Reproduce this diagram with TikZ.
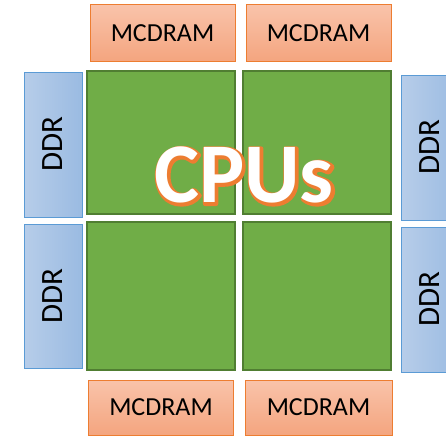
\documentclass[tikz,border=0pt]{standalone}
\usepackage{fontspec}
\setmainfont{Carlito}
\definecolor{mcborder}{HTML}{ED7D31}
\definecolor{mctop}{HTML}{F9C3AA}
\definecolor{mcbot}{HTML}{F4A57F}
\definecolor{ddrborder}{HTML}{5B9BD5}
\definecolor{ddrleft}{HTML}{B7CDE9}
\definecolor{ddrright}{HTML}{9ABBE2}
\definecolor{cpufill}{HTML}{70AD47}
\definecolor{cpuborder}{HTML}{507E32}
\definecolor{cpuorange}{HTML}{ED7D31}
\newcommand{\orangestroked}[1]{\special{pdf:literal 2 Tr 4.5 w 1 j 0.929 0.490 0.192 RG}#1\special{pdf:literal 0 Tr}}
\begin{document}
\begin{tikzpicture}[x=1pt,y=-1pt,
  mc/.style={draw=mcborder, line width=1pt, top color=mctop, bottom color=mcbot,
    minimum width=145pt, minimum height=56pt, inner sep=0pt,
    font=\fontsize{26}{26}\selectfont},
  ddr/.style={draw=ddrborder, line width=1pt, left color=ddrleft, right color=ddrright,
    minimum width=58pt, minimum height=145pt, inner sep=0pt},
  ddrtext/.style={rotate=90, font=\fontsize{31}{31}\selectfont, inner sep=0pt},
  cpu/.style={draw=cpuborder, line width=1.2pt, fill=cpufill,
    minimum width=148pt, minimum height=145pt, inner sep=0pt},
  cputext/.style={font=\fontsize{85}{85}\selectfont\bfseries, inner sep=0pt}
]
\useasboundingbox (0,0) rectangle (446,436);
% MCDRAM
\node[mc] (m1) at (162.5,33) {MCDRAM};
\node[mc] (m2) at (318.5,33) {MCDRAM};
\node[mc, minimum height=55pt] (m3) at (161,407.5) {MCDRAM};
\node[mc, minimum width=147pt, minimum height=55pt] (m4) at (318.5,407.5) {MCDRAM};
% DDR
\node[ddr] (d1) at (53,144.5) {};
\node[ddrtext] (d1t) at (d1) {DDR};
\node[ddr, minimum height=144pt] (d2) at (53,296) {};
\node[ddrtext] (d2t) at (d2) {DDR};
\node[ddr] (d3) at (430,147.5) {};
\node[ddrtext] (d3t) at (d3) {DDR};
\node[ddr] (d4) at (430,299.5) {};
\node[ddrtext] (d4t) at (d4) {DDR};
% CPU tiles
\node[cpu, minimum height=143pt] (g1) at (161,142.5) {};
\node[cpu, minimum height=143pt] (g2) at (317,142.5) {};
\node[cpu, minimum height=148pt] (g3) at (161,296) {};
\node[cpu, minimum height=148pt] (g4) at (317,296) {};
% CPUs label: orange outline/shadow beneath white text
\node[cputext, text=cpuorange] (cshadow) at (245.2,176.2) {\orangestroked{CPUs}};
\node[cputext, text=white] (cpus) at (244,175) {CPUs};
\end{tikzpicture}
\end{document}
